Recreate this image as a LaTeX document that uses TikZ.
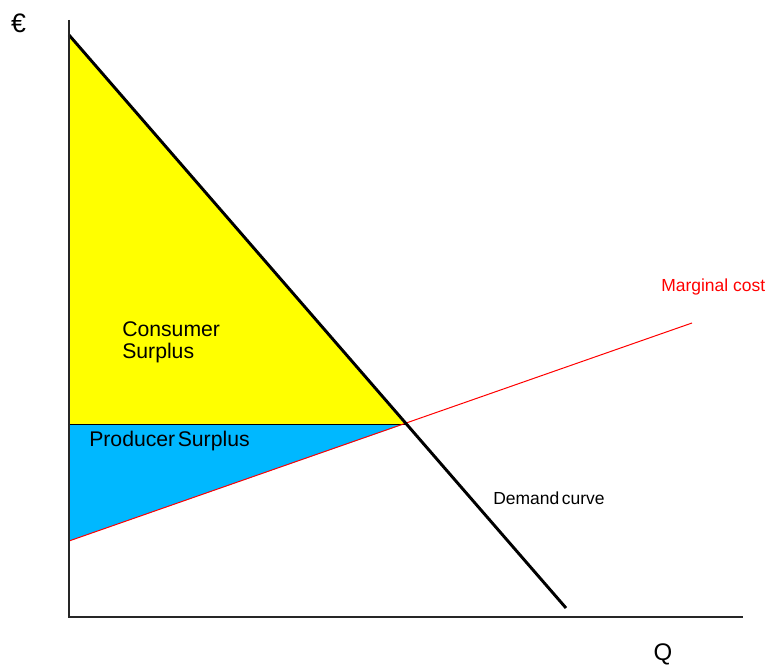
\documentclass[tikz,border=0pt]{standalone}
\usepackage{fontspec}
\setmainfont{Liberation Sans}
\definecolor{csyellow}{RGB}{255,255,0}
\definecolor{psblue}{RGB}{0,184,255}
\definecolor{mcred}{RGB}{255,0,0}
\begin{document}
\begin{tikzpicture}[x=0.75pt,y=-0.75pt,
  axisline/.style={line width=1.5pt,black!85},
  demandline/.style={line width=2.2pt,black},
  mcline/.style={line width=0.75pt,mcred},
  thinline/.style={line width=0.75pt,black},
  lbl/.style={inner sep=0pt,font=\fontsize{13.1pt}{15pt}\selectfont},
  biglbl/.style={inner sep=0pt,font=\fontsize{15.9pt}{16.5pt}\selectfont}]
\useasboundingbox (0,0) rectangle (767,666);
% key points
\coordinate (ytop) at (69,20);
\coordinate (origin) at (69,617);
\coordinate (xend) at (743,617);
\coordinate (dtop) at (69,35);
\coordinate (dend) at (566,608);
\coordinate (eq) at (404.5,424);
\coordinate (peq) at (69,424);
\coordinate (mcstart) at (69,541);
\coordinate (mcend) at (692,323);
% areas
\fill[csyellow] (dtop) -- (eq) -- (peq) -- cycle;
\fill[psblue] (peq) -- (eq) -- (mcstart) -- cycle;
% lines
\draw[thinline] (peq) -- (eq);
\draw[mcline] (mcstart) -- (mcend);
\draw[demandline] (dtop) -- (dend);
\draw[axisline] (ytop) -- (origin) -- (xend);
% labels
\node[inner sep=0pt,font=\fontsize{20pt}{22pt}\selectfont] (euro) at (18.5,23) {€};
\node[inner sep=0pt,font=\fontsize{18pt}{20pt}\selectfont] (q) at (663,654) {Q};
\node[lbl,anchor=west,text=mcred] (mclbl) at (661,287) {Marginal cost};
\node[lbl,anchor=west] (dlbl) at (493,498) {Demand\hspace{0.15em}curve};
\node[biglbl,anchor=west,align=left] (cs) at (122,342) {Consumer\\Surplus};
\node[biglbl,anchor=west] (ps) at (89,441) {Producer\hspace{0.12em}Surplus};
\end{tikzpicture}
\end{document}
